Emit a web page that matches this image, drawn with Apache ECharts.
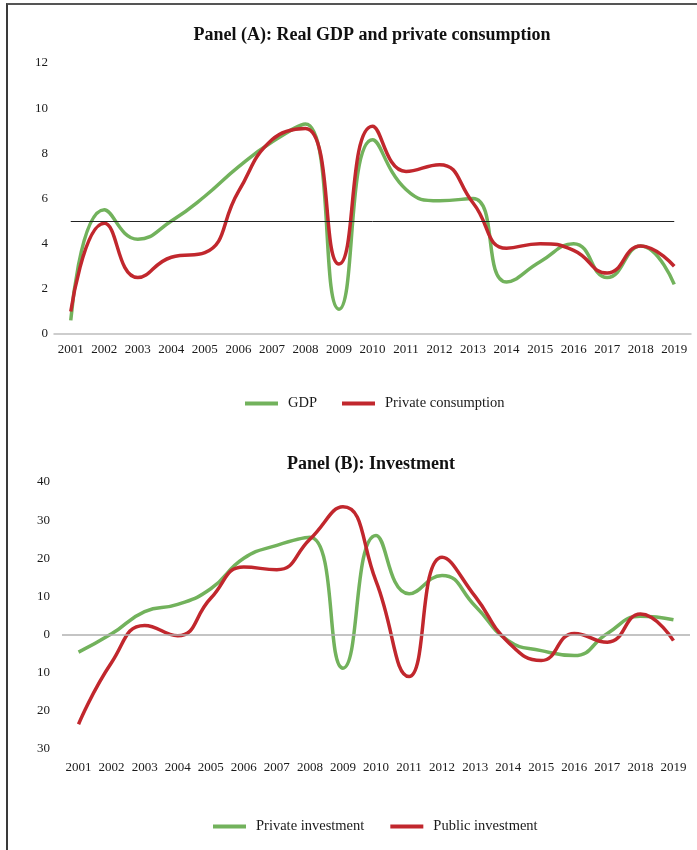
<!DOCTYPE html>
<html>
<head>
<meta charset="utf-8">
<script src="https://cdn.jsdelivr.net/npm/echarts@6/dist/echarts.min.js"></script>
<style>
  html, body { margin: 0; padding: 0; background: #fff; }
  #chart { width: 697px; height: 850px; }
  #frame { position: absolute; left: 6px; top: 3px; width: 700px; height: 860px;
           border-left: 2px solid #3a3a3a; border-top: 2px solid #555; pointer-events: none; }
</style>
</head>
<body>
<div id="chart"></div>
<div id="frame"></div>
<script>
const years = ['2001','2002','2003','2004','2005','2006','2007','2008','2009','2010',
               '2011','2012','2013','2014','2015','2016','2017','2018','2019'];

// Panel A
const gdp         = [0.6, 5.5, 4.2, 5.0, 6.1, 7.4, 8.5, 9.3, 1.1, 8.6, 6.4, 5.9, 6.0, 2.3, 3.2, 4.0, 2.5, 3.9, 2.2];
const consumption = [1.0, 4.9, 2.5, 3.4, 3.6, 6.3, 8.6, 9.1, 3.1, 9.2, 7.2, 7.5, 5.8, 3.8, 4.0, 3.7, 2.7, 3.9, 3.0];
const refLevelA = 5;
const yTicksA = ['0','2','4','6','8','10','12'];

// Panel B
const privateInv = [-4.6, 0.2, 6.0, 7.9, 12.0, 20.0, 23.4, 25.5, -8.8, 26.0, 10.7, 15.5, 7.5, -1.6, -4.2, -5.5, 0.3, 4.8, 3.9];
const publicInv  = [-23.5, -7.3, 2.4, -0.3, 9.5, 17.7, 17.0, 25.0, 33.5, 14.0, -11.0, 20.3, 10.0, -2.0, -6.8, 0.3, -2.0, 5.4, -1.6];
const yTicksB = {'40':'40','30':'30','20':'20','10':'10','0':'0','-10':'10','-20':'20','-30':'30'};

const GREEN = '#72b25c';
const RED = '#c1272d';
const FONT = '"Liberation Serif", "DejaVu Serif", serif';

const chart = echarts.init(document.getElementById('chart'), null, {renderer: 'canvas'});

const labelStyle = { color: '#1a1a1a', fontFamily: FONT, fontSize: 13 };
const legendText = { color: '#1a1a1a', fontFamily: FONT, fontSize: 14.5, padding: [0, 0, 0, 5] };

chart.setOption({
  backgroundColor: 'transparent',
  animation: false,
  title: [
    { text: 'Panel (A): Real GDP and private consumption', left: 367, top: 21, textAlign: 'center',
      textStyle: { fontFamily: FONT, fontSize: 18, fontWeight: 'bold', color: '#111' } },
    { text: 'Panel (B): Investment', left: 366, top: 450, textAlign: 'center',
      textStyle: { fontFamily: FONT, fontSize: 18, fontWeight: 'bold', color: '#111' } }
  ],
  legend: [
    { data: ['GDP', 'Private consumption'], left: 240, top: 391, itemWidth: 33, itemHeight: 4,
      itemGap: 25, icon: 'rect', textStyle: legendText },
    { data: ['Private investment', 'Public investment'], left: 208, top: 814, itemWidth: 33, itemHeight: 4,
      itemGap: 26, icon: 'rect', textStyle: legendText }
  ],
  grid: [
    { left: 54, right: 6, top: 63, height: 271 },
    { left: 62, right: 7, top: 482, height: 267 }
  ],
  xAxis: [
    { type: 'category', gridIndex: 0, data: years, boundaryGap: true,
      axisLine: { show: true, lineStyle: { color: '#bdbdbd', width: 1.5 } },
      axisTick: { show: false }, axisLabel: Object.assign({ margin: 9, interval: 0 }, labelStyle) },
    { type: 'category', gridIndex: 1, data: years, boundaryGap: true,
      axisLine: { show: false, onZero: false }, axisTick: { show: false },
      axisLabel: Object.assign({ margin: 12, interval: 0 }, labelStyle) }
  ],
  yAxis: [
    { type: 'value', gridIndex: 0, min: 0, max: 12, interval: 2,
      axisLine: { show: false }, axisTick: { show: false }, splitLine: { show: false },
      axisLabel: Object.assign({ margin: 6, formatter: v => yTicksA[v / 2] }, labelStyle) },
    { type: 'value', gridIndex: 1, min: -30, max: 40, interval: 10,
      axisLine: { show: false }, axisTick: { show: false }, splitLine: { show: false },
      axisLabel: Object.assign({ margin: 12, formatter: v => yTicksB[String(v)] }, labelStyle) }
  ],
  series: [
    { name: 'GDP', type: 'line', xAxisIndex: 0, yAxisIndex: 0, data: gdp, smooth: 0.5,
      showSymbol: false, lineStyle: { color: GREEN, width: 3.5 }, itemStyle: { color: GREEN }, z: 3,
      markLine: { silent: true, symbol: 'none', label: { show: false },
        lineStyle: { color: '#222', width: 1, type: 'solid' },
        data: [[{ coord: [0, refLevelA] }, { coord: [years.length - 1, refLevelA] }]] } },
    { name: 'Private consumption', type: 'line', xAxisIndex: 0, yAxisIndex: 0, data: consumption, smooth: 0.5,
      showSymbol: false, lineStyle: { color: RED, width: 3.5 }, itemStyle: { color: RED }, z: 4 },
    { name: 'Private investment', type: 'line', xAxisIndex: 1, yAxisIndex: 1, data: privateInv, smooth: 0.5,
      showSymbol: false, lineStyle: { color: GREEN, width: 3.5 }, itemStyle: { color: GREEN }, z: 3,
      markLine: { silent: true, symbol: 'none', label: { show: false },
        lineStyle: { color: '#b0b0b0', width: 1.5, type: 'solid' },
        data: [{ yAxis: 0 }] } },
    { name: 'Public investment', type: 'line', xAxisIndex: 1, yAxisIndex: 1, data: publicInv, smooth: 0.5,
      showSymbol: false, lineStyle: { color: RED, width: 3.5 }, itemStyle: { color: RED }, z: 4 }
  ]
});
</script>
</body>
</html>
